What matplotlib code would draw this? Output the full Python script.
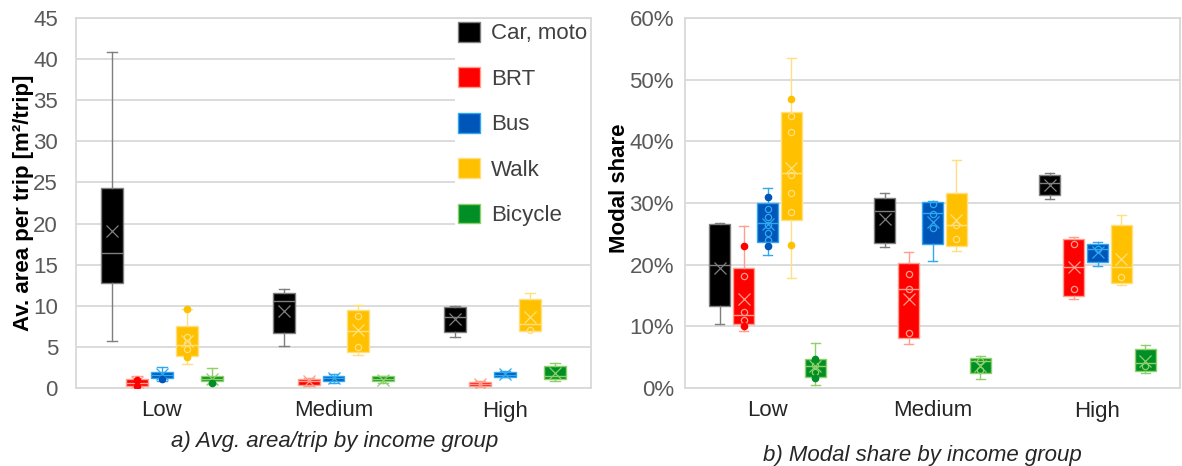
import matplotlib
matplotlib.use("Agg")
import matplotlib.pyplot as plt
from matplotlib.patches import Patch

plt.rcParams['font.family'] = ['Liberation Sans', 'DejaVu Sans']

groups = ["Low", "Medium", "High"]
modes = ["Car, moto", "BRT", "Bus", "Walk", "Bicycle"]
face_colors = ["#000000", "#FF0000", "#0055B8", "#FFC000", "#008F26"]
edge_colors = ["#7F7F7F", "#FF9E8A", "#2FA8F0", "#FFE080", "#8FD06A"]

# a) average area per trip [m2/trip]; one row per mode, one entry per income group
# each box: (whisker low, q1, median, q3, whisker high, mean)
area_car = [(5.7, 12.8, 16.4, 24.3, 40.9, 19.1), (5.1, 6.7, 10.6, 11.5, 12.1, 9.4), (6.2, 6.8, 8.6, 9.8, 10.0, 8.4)]
area_brt = [(0.1, 0.3, 0.6, 1.1, 1.4, 0.7), (0.3, 0.4, 0.8, 1.1, 1.2, 0.8), (0.1, 0.3, 0.5, 0.7, 0.8, 0.5)]
area_bus = [(0.8, 1.2, 1.6, 2.0, 2.6, 1.7), (0.6, 0.9, 1.2, 1.5, 1.7, 1.2), (1.3, 1.3, 1.6, 2.0, 2.1, 1.7)]
area_walk = [(2.9, 3.9, 5.2, 7.5, 9.6, 5.7), (4.0, 4.4, 6.9, 9.5, 10.1, 7.0), (6.9, 6.9, 7.8, 10.8, 11.6, 8.6)]
area_bike = [(0.5, 0.8, 1.1, 1.4, 2.4, 1.1), (0.6, 0.8, 1.1, 1.4, 1.4, 1.0), (0.9, 1.1, 1.5, 2.7, 3.1, 1.8)]

# b) modal share [%]
share_car = [(10.4, 13.3, 20.0, 26.6, 26.8, 19.5), (22.9, 23.5, 28.7, 30.8, 31.6, 27.4), (30.7, 31.3, 33.2, 34.6, 34.9, 33.0)]
share_brt = [(9.2, 10.4, 11.8, 19.4, 26.3, 14.5), (7.1, 8.1, 16.1, 20.2, 22.1, 14.5), (14.5, 15.0, 19.6, 24.2, 24.5, 19.6)]
share_bus = [(21.5, 23.6, 26.8, 30.0, 32.4, 26.6), (20.6, 23.3, 28.3, 30.1, 30.3, 26.9), (19.8, 20.4, 22.6, 23.4, 23.6, 22.1)]
share_walk = [(17.8, 27.3, 34.9, 44.8, 53.5, 35.7), (22.2, 23.1, 26.4, 31.7, 36.9, 27.2), (16.7, 17.0, 19.6, 26.4, 28.1, 21.0)]
share_bike = [(0.5, 1.8, 3.6, 4.7, 7.3, 3.5), (1.5, 2.4, 4.4, 4.8, 5.2, 3.6), (2.4, 2.8, 4.0, 6.3, 6.9, 4.3)]

# visible data points: (group index, mode index, value)
area_open = [(0, 3, 6.2), (0, 3, 5.5), (0, 3, 4.8), (1, 3, 8.8), (1, 3, 5.0), (2, 3, 7.0)]
area_filled = [(0, 3, 9.6), (0, 3, 3.8), (0, 1, 1.0), (0, 1, 0.2), (0, 2, 1.1), (0, 4, 0.6)]
share_open = [(0, 1, 18.2), (0, 1, 12.4), (0, 1, 11.1),
              (0, 2, 29.0), (0, 2, 27.8), (0, 2, 26.5), (0, 2, 25.2), (0, 2, 24.0),
              (0, 3, 44.1), (0, 3, 41.5), (0, 3, 34.6), (0, 3, 31.7), (0, 3, 28.6),
              (0, 4, 3.7), (0, 4, 2.6),
              (1, 1, 18.5), (1, 1, 16.1), (1, 1, 9.0),
              (1, 2, 29.8), (1, 2, 28.2), (1, 2, 26.0),
              (1, 3, 26.4), (1, 3, 24.1), (1, 4, 4.3), (1, 4, 3.0),
              (2, 1, 23.3), (2, 1, 16.0), (2, 2, 22.5), (2, 3, 18.0), (2, 4, 3.5)]
share_filled = [(0, 1, 23.0), (0, 1, 10.1), (0, 2, 31.0), (0, 2, 23.1),
                (0, 3, 46.8), (0, 3, 23.2), (0, 4, 4.7), (0, 4, 1.7)]

step = 0.145
width = 0.128


def draw_panel(ax, series, open_pts, filled_pts, ypad):
    for m, boxes in enumerate(series):
        stats = []
        pos = []
        for g, (lo, q1, med, q3, hi, mean) in enumerate(boxes):
            stats.append(dict(whislo=lo, q1=q1, med=med, q3=q3, whishi=hi, mean=mean, fliers=[]))
            pos.append(g + (m - 2) * step)
        ec = edge_colors[m]
        ax.bxp(stats, positions=pos, widths=width, patch_artist=True, showmeans=True,
               showfliers=False, manage_ticks=False, capwidths=width * 0.45,
               boxprops=dict(facecolor=face_colors[m], edgecolor=ec, linewidth=1.0),
               whiskerprops=dict(color=ec, linewidth=1.0),
               capprops=dict(color=ec, linewidth=1.0),
               medianprops=dict(color=ec, linewidth=1.0),
               meanprops=dict(marker='x', markeredgecolor=ec, markersize=9,
                              markeredgewidth=0.9, linestyle='none'),
               zorder=3)
    for g, m, v in open_pts:
        ax.plot(g + (m - 2) * step, v, 'o', ms=4.5, mfc='none', mec=edge_colors[m], mew=0.9, zorder=4)
    for g, m, v in filled_pts:
        ax.plot(g + (m - 2) * step, v, 'o', ms=4.5, mfc=face_colors[m], mec=face_colors[m], zorder=4)
    ax.set_xlim(-0.5, 2.5)
    ax.set_xticks(range(3))
    ax.set_xticklabels(groups, fontsize=16, color='#262626')
    ax.tick_params(axis='both', length=0)
    ax.tick_params(axis='x', pad=9)
    ax.tick_params(axis='y', labelsize=16, labelcolor='#595959', pad=ypad)
    ax.grid(axis='y', color='#D9D9D9', linewidth=1.3, zorder=0)
    ax.set_axisbelow(True)
    for s in ax.spines.values():
        s.set_color('#D9D9D9')
        s.set_linewidth(1.3)


fig = plt.figure(figsize=(11.82, 4.66), dpi=100)
ax1 = fig.add_axes([76 / 1182, 78 / 466, 515 / 1182, 370 / 466])
ax2 = fig.add_axes([685 / 1182, 78 / 466, 495 / 1182, 370 / 466])

draw_panel(ax1, [area_car, area_brt, area_bus, area_walk, area_bike], area_open, area_filled, 13)
ax1.set_ylim(0, 45)
ax1.set_yticks(range(0, 46, 5))
ax1.set_ylabel("Av. area per trip [m²/trip]", fontsize=16, fontweight='bold')
ax1.yaxis.set_label_coords(-0.082, 0.5)

draw_panel(ax2, [share_car, share_brt, share_bus, share_walk, share_bike], share_open, share_filled, 8)
ax2.set_ylim(0, 60)
ax2.set_yticks(range(0, 61, 10))
ax2.set_yticklabels([f"{v}%" for v in range(0, 61, 10)])
ax2.set_ylabel("Modal share", fontsize=16, fontweight='bold')
ax2.yaxis.set_label_coords(-0.111, 0.54)

handles = [Patch(facecolor=f, edgecolor=e, linewidth=1.0) for f, e in zip(face_colors, edge_colors)]
leg = ax1.legend(handles, modes, loc='upper right', bbox_to_anchor=(1.0, 1.0), fontsize=16,
                 frameon=True, facecolor='white', edgecolor='none', framealpha=1,
                 handlelength=1.0, handleheight=1.0, labelspacing=1.03, handletextpad=0.5,
                 borderpad=0.12, borderaxespad=0.05)
for t in leg.get_texts():
    t.set_color('#404040')
leg.set_zorder(5)

fig.text(335 / 1182, 1 - 442 / 466, "a) Avg. area/trip by income group", ha='center', va='center',
         fontsize=16, style='italic', color='#262626')
fig.text(922 / 1182, 1 - 455 / 466, "b) Modal share by income group", ha='center', va='center',
         fontsize=16, style='italic', color='#262626')

fig.savefig("out.png", dpi=100)
